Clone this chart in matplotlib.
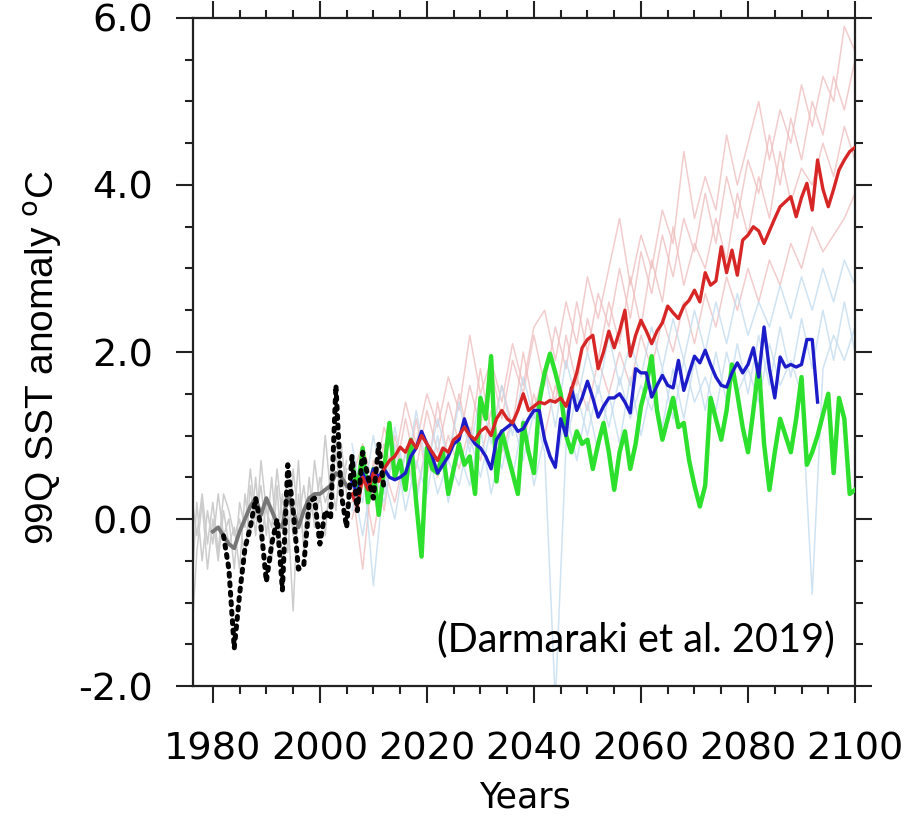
import numpy as np
import matplotlib.pyplot as plt
from matplotlib.ticker import MultipleLocator

# historical ensemble members (1976-2005), light grey
hist_start = 1976
hist_g1 = [-0.9, 0.2, -0.5, 0.1, -0.3, 0.3, -0.2, 0.0, -0.6, 0.2, -0.1, 0.6, 0.0, 0.4, -0.2,
           0.5, -0.3, 0.3, -0.4, 0.6, 0.0, 0.4, -0.1, 0.7, 0.2, 1.0, 0.3, 0.8, 0.2, 0.6]
hist_g2 = [-1.5, -0.4, 0.2, -0.6, 0.0, -0.5, 0.1, -0.3, -0.1, -0.6, 0.3, -0.2, 0.5, -0.3, 0.2,
           -0.5, 0.4, -0.6, 0.1, -1.1, 0.3, -0.3, 0.5, -0.1, 0.3, -0.2, 0.6, 0.1, 0.9, 0.3]
hist_g3 = [0.3, -0.2, 0.3, -0.3, 0.2, -0.4, 0.3, 0.1, -0.2, 0.0, -0.5, 0.4, -0.2, 0.7, 0.1,
           -0.1, 0.6, 0.0, 0.5, -0.2, 0.7, -0.4, 0.2, 0.0, 0.5, 0.2, 0.4, 1.0, 0.4, 0.7]

# historical ensemble mean (1980-2005)
hist_mean_start = 1980
hist_mean = [-0.15, -0.1, -0.2, -0.3, -0.35, -0.15, 0.0, 0.15, 0.25, 0.05, 0.25, 0.1, -0.05,
             -0.1, 0.3, 0.1, -0.1, 0.1, 0.25, 0.3, 0.3, 0.35, 0.4, 0.55, 0.5, 0.4]

# observations (1982-2012), black dotted
obs_start = 1982
obs = [-0.2, -0.6, -1.55, -0.9, -0.35, -0.1, 0.25, -0.1, -0.75, -0.3, 0.0, -0.85, 0.65, 0.1,
       -0.6, -0.55, 0.2, 0.25, -0.3, 0.1, 0.0, 1.6, 0.3, -0.1, 0.75, 0.1, 0.8, 0.5, 0.25, 0.9, 0.35]

# scenario runs start in 2006
scen_start = 2006
green = [0.7, 0.3, 0.85, 0.2, 0.6, 0.05, 0.6, 1.15, 0.5, 0.7, 0.35, 0.95, 0.2, -0.45, 0.85,
         0.6, 0.55, 0.8, 0.3, 0.6, 0.9, 0.65, 0.75, 0.3, 1.45, 1.2, 1.95, 0.45, 1.05, 0.8,
         0.55, 0.3, 1.15, 0.8, 0.55, 1.4, 1.75, 1.98, 1.75, 1.5, 1.0, 0.8, 1.05, 0.9, 0.95,
         0.6, 0.9, 1.15, 0.8, 0.35, 0.8, 1.05, 0.6, 0.9, 1.35, 1.6, 1.95, 1.3, 0.95, 1.2,
         1.45, 1.1, 1.15, 0.7, 0.4, 0.15, 0.4, 1.45, 1.2, 0.95, 1.3, 1.85, 1.5, 1.1, 0.8,
         1.3, 1.85, 0.9, 0.35, 0.8, 1.2, 1.0, 0.8, 1.2, 1.7, 0.65, 0.8, 1.0, 1.25, 1.5,
         0.55, 1.45, 1.2, 0.3, 0.35]
blue = [0.45, 0.3, 0.55, 0.4, 0.6, 0.5, 0.6, 0.5, 0.47, 0.5, 0.55, 0.75, 0.85, 1.05, 0.9,
        0.75, 0.55, 0.65, 0.75, 0.9, 0.95, 1.2, 1.0, 0.9, 0.85, 0.75, 0.6, 0.95, 1.05, 1.1,
        1.15, 1.05, 1.08, 1.2, 1.3, 1.3, 0.95, 0.75, 0.62, 1.2, 1.0, 1.57, 1.3, 1.45, 1.65,
        1.45, 1.22, 1.35, 1.45, 1.45, 1.5, 1.4, 1.27, 1.8, 1.75, 1.75, 1.46, 1.6, 1.72, 1.6,
        1.57, 1.9, 1.54, 1.75, 1.95, 1.87, 2.02, 1.85, 1.7, 1.6, 1.58, 1.75, 1.87, 1.75, 1.85,
        2.05, 1.7, 2.3, 1.8, 1.45, 1.94, 1.82, 1.85, 1.82, 1.85, 2.15, 2.15, 1.4]
red = [0.3, 0.15, 0.5, 0.35, 0.55, 0.45, 0.6, 0.7, 0.75, 0.86, 0.8, 0.95, 0.85, 1.0, 0.9,
       0.8, 0.7, 0.85, 0.8, 0.95, 1.0, 1.1, 1.0, 0.95, 1.05, 1.1, 1.0, 1.2, 1.3, 1.2,
       1.15, 1.3, 1.5, 1.3, 1.35, 1.4, 1.38, 1.42, 1.4, 1.45, 1.35, 1.55, 1.75, 2.05, 2.15,
       2.2, 1.8, 2.0, 2.25, 2.05, 2.25, 2.5, 1.95, 2.2, 2.38, 2.25, 2.1, 2.25, 2.35, 2.55,
       2.47, 2.4, 2.55, 2.62, 2.74, 2.6, 2.95, 2.8, 2.85, 3.26, 2.95, 3.22, 2.92, 3.34, 3.4,
       3.5, 3.45, 3.3, 3.45, 3.6, 3.74, 3.8, 3.86, 3.62, 3.85, 4.02, 3.7, 4.3, 3.95, 3.74,
       3.95, 4.18, 4.3, 4.4, 4.45]

# scenario ensemble members, every second year 2006-2100
memb_step = 2
pink_1 = [0.5, 0.9, 0.4, 1.1, 0.7, 1.4, 0.9, 1.5, 1.1, 1.7, 1.3, 2.2, 1.5, 1.9, 1.4, 2.1,
          1.6, 2.3, 2.5, 1.9, 2.6, 2.1, 2.9, 2.4, 3.0, 3.6, 2.8, 3.4, 3.0, 3.7, 3.3, 4.4,
          3.6, 4.1, 3.7, 4.6, 4.0, 4.5, 5.0, 4.3, 4.9, 4.5, 5.2, 4.7, 5.3, 5.0, 5.9, 5.6]
pink_2 = [0.2, 0.7, 0.3, 0.9, 0.5, 1.2, 0.6, 1.3, 0.8, 1.4, 0.9, 1.6, 1.1, 1.8, 1.2, 1.9,
          1.5, 2.2, 1.6, 2.3, 1.8, 2.6, 2.0, 2.7, 2.3, 3.0, 2.4, 3.2, 2.7, 3.4, 2.9, 3.6,
          3.2, 3.9, 3.3, 4.1, 3.6, 4.3, 3.9, 4.6, 4.0, 4.8, 4.3, 5.0, 4.6, 5.3, 4.9, 5.5]
pink_3 = [0.0, 0.5, -0.2, 0.6, 0.2, 0.8, 0.3, 0.9, 0.5, 1.0, 0.6, 1.1, 0.7, 1.3, 0.8, 1.2,
          0.9, 1.5, 1.0, 1.6, 1.2, 1.7, 1.3, 1.9, 1.5, 2.0, 1.6, 2.2, 1.8, 2.4, 2.0, 2.6,
          2.1, 2.7, 2.3, 2.9, 2.5, 3.0, 2.6, 3.1, 2.8, 3.3, 3.0, 3.5, 3.2, 3.4, 3.6, 3.9]
pink_4 = [0.4, -0.6, 0.7, 0.1, 1.0, 0.4, 1.2, 0.5, 1.4, 0.7, 1.5, 0.9, 1.8, 1.0, 1.6, 1.1,
          2.0, 1.3, 1.8, 1.4, 2.2, 1.6, 2.4, 1.9, 2.6, 2.1, 2.9, 2.3, 3.1, 2.6, 3.5, 2.8,
          3.3, 3.0, 3.6, 3.1, 3.9, 3.4, 4.1, 3.6, 4.4, 3.8, 4.2, 4.0, 4.5, 4.1, 4.7, 4.3]
lblue_1 = [0.9, 0.2, 1.0, 0.3, 1.1, 0.5, 1.3, 0.6, 1.2, 0.7, 1.4, 0.8, 1.5, 0.9, 1.6, 1.0,
           1.7, 1.2, 1.8, 1.1, 1.9, 1.4, 2.0, 1.5, 2.2, 1.6, 2.1, 1.7, 2.3, 1.8, 2.4, 1.9,
           2.5, 2.0, 2.6, 2.1, 2.7, 2.2, 2.6, 2.3, 2.8, 2.4, 2.9, 2.5, 3.0, 2.6, 3.1, 2.8]
lblue_2 = [0.1, 0.7, -0.8, 0.5, 0.0, 0.8, 0.2, 0.9, 0.3, 0.7, 0.4, 1.0, 0.5, 1.1, 0.6, 1.2,
           0.7, 1.3, 0.8, -2.2, 0.9, 1.5, 1.0, 1.6, 1.1, 1.7, 1.2, 1.6, 1.3, 1.8, 1.2, 1.9,
           1.4, 1.7, 1.3, 2.0, 1.5, 1.8, 1.4, 2.1, 1.6, 1.9, 1.5, -0.9, 1.8, 2.2, 1.9, 2.3]
lblue_3 = [0.5, -0.2, 0.6, 0.2, 0.9, 0.1, 0.7, 0.3, 1.0, 0.2, 0.8, 0.4, 1.1, 0.3, 0.9, 0.5,
           1.2, 0.4, 1.0, 0.6, 1.3, 0.7, 1.4, 0.8, 1.5, 0.9, 1.7, 1.0, 1.6, 1.1, 1.8, 1.2,
           1.9, 1.3, 2.0, 1.4, 2.1, 1.5, 2.2, 1.6, 2.3, 1.7, 2.4, 1.8, 2.5, 1.9, 2.6, 2.0]


def yrs(start, vals, step=1):
    return start + step * np.arange(len(vals))


fig = plt.figure(figsize=(9.05, 8.17), dpi=100)
ax = fig.add_axes([0.2133, 0.1603, 0.7315, 0.8177])

for m in (hist_g1, hist_g2, hist_g3):
    ax.plot(yrs(hist_start, m), m, color='#cccccc', lw=1.1, zorder=1)
for m in (pink_1, pink_2, pink_3, pink_4):
    ax.plot(yrs(scen_start, m, memb_step), m, color='#eebcbc', lw=1.1, alpha=0.75, zorder=1)
for m in (lblue_1, lblue_2, lblue_3):
    ax.plot(yrs(scen_start, m, memb_step), m, color='#c4dcef', lw=1.1, alpha=0.8, zorder=1)

ax.plot(yrs(hist_mean_start, hist_mean), hist_mean, color='#777777', lw=2.8, zorder=3)
ax.plot(yrs(scen_start, green), green, color='#2ee02e', lw=3.2, zorder=4)
ax.plot(yrs(scen_start, blue), blue, color='#1c1cc8', lw=2.4, zorder=5)
ax.plot(yrs(scen_start, red), red, color='#d62626', lw=2.4, zorder=5)
ax.plot(yrs(obs_start, obs), obs, color='black', lw=3.6, ls=(0, (0.6, 1.3)),
        dash_capstyle='round', zorder=6)

ax.set_xlim(1976.3, 2100)
ax.set_ylim(-2, 6)
ax.xaxis.set_major_locator(MultipleLocator(20))
ax.xaxis.set_minor_locator(MultipleLocator(5))
ax.yaxis.set_major_locator(MultipleLocator(2))
ax.yaxis.set_minor_locator(MultipleLocator(0.5))
ax.yaxis.set_major_formatter(plt.FuncFormatter(lambda v, p: f"{v:.1f}"))
ax.tick_params(which='both', direction='out', top=True, right=True, width=1.5,
               labelsize=27.5, labelfontfamily='DejaVu Sans', color='#222222')
ax.tick_params(which='major', length=12)
ax.tick_params(which='minor', length=6)
ax.tick_params(axis='y', which='major', pad=17)
ax.tick_params(axis='x', which='major', pad=21)
for s in ax.spines.values():
    s.set_linewidth(1.6)
    s.set_color('#222222')

ax.text(0.97, 0.069, "(Darmaraki et al. 2019)", transform=ax.transAxes,
        ha='right', va='center', fontsize=28.5, family='Lato')
fig.text(43 / 905, 1 - 357 / 817, "99Q SST anomaly $^{\\mathrm{o}}$C", rotation=90,
         ha='center', va='center', fontsize=28, family=['Liberation Sans Narrow', 'Liberation Sans'])
fig.text(525 / 905, 1 - 797 / 817, "Years", ha='center', va='center',
         fontsize=25, family='DejaVu Sans')

plt.savefig('out.png', dpi=100)
